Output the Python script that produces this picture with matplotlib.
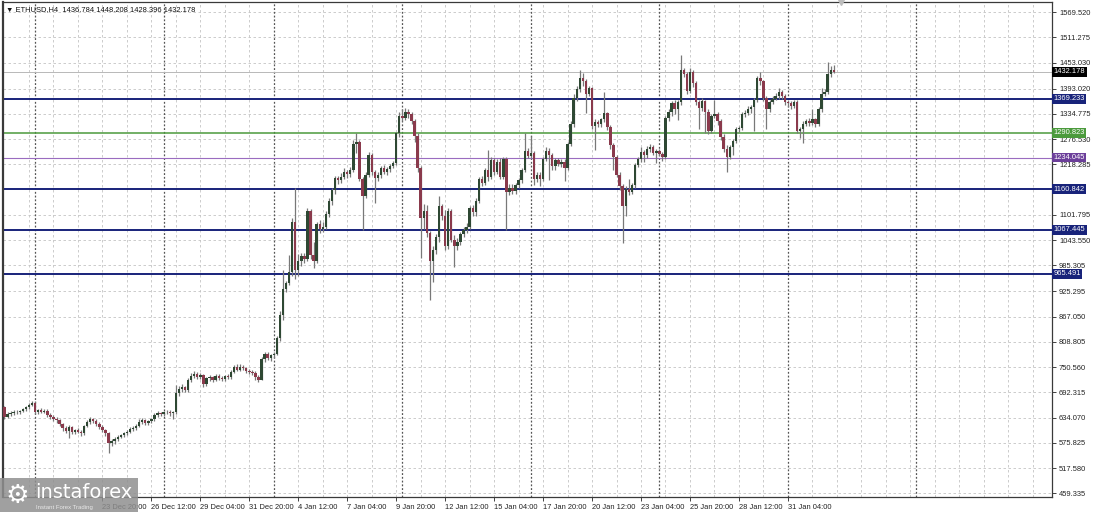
import numpy as np
import matplotlib
matplotlib.use("Agg")
import matplotlib.pyplot as plt
from matplotlib.patches import Rectangle
import matplotlib.transforms as mtransforms

# ---- data (ETHUSD H4) ----
FIRST_OPEN = 658

closes = [
    636, 642, 645, 648, 646, 650, 653, 658, 664, 668,
    646, 652, 648, 650, 640, 636, 632, 628, 620, 610,
    604, 612, 600, 606, 602, 598, 615, 625, 630, 626,
    620, 612, 605, 598, 575, 580, 585, 590, 594, 598,
    602, 608, 610, 615, 625, 628, 622, 626, 630, 640,
    645, 642, 646, 648, 644, 646, 690, 700, 705, 698,
    722, 730, 735, 728, 732, 712, 725, 728, 722, 730,
    726, 724, 730, 728, 740, 750, 745, 752, 748, 742,
    740, 738, 728, 722, 770, 780, 772, 778, 782, 818,
    872, 932, 945, 970, 1085, 975, 995, 1008, 1000, 1110,
    1010, 995, 1080, 1070, 1075, 1105, 1135, 1160, 1186, 1183,
    1190, 1200, 1196, 1205, 1265, 1270, 1185, 1145, 1195, 1240,
    1200, 1188, 1195, 1210, 1200, 1208, 1215, 1222, 1290, 1330,
    1325, 1340, 1335, 1318, 1285, 1210, 1095, 1110, 1060, 995,
    1020, 1050, 1122, 1100, 1030, 1110, 1045, 1030, 1040, 1058,
    1068, 1075, 1118, 1108, 1135, 1185, 1175, 1205, 1190, 1228,
    1200, 1225, 1190, 1230, 1155, 1165, 1158, 1170, 1182, 1205,
    1250, 1238, 1245, 1185, 1195, 1185, 1230, 1250, 1240, 1215,
    1228, 1220, 1225, 1210, 1265, 1312, 1372, 1392, 1418, 1410,
    1380, 1395, 1308, 1315, 1312, 1322, 1337, 1305, 1262, 1235,
    1195, 1168, 1122, 1162, 1155, 1170, 1218, 1230, 1248, 1240,
    1255, 1258, 1245, 1250, 1242, 1235, 1325, 1340, 1360, 1345,
    1362, 1436, 1428, 1388, 1432, 1405, 1362, 1348, 1365, 1340,
    1295, 1330, 1335, 1318, 1282, 1255, 1236, 1258, 1272, 1300,
    1302, 1335, 1338, 1345, 1350, 1367, 1418, 1410, 1372, 1345,
    1362, 1370, 1376, 1386, 1375, 1362, 1360, 1352, 1362, 1295,
    1300, 1312, 1318, 1314, 1322, 1312, 1345, 1380, 1386, 1428,
    1436.784, 1432.178,
]

highs = [
    660, 646, 649, 652, 651, 652, 656, 660, 668, 672,
    672, 655, 656, 654, 653, 644, 640, 636, 630, 622,
    614, 616, 615, 609, 610, 606, 618, 628, 635, 633,
    630, 624, 616, 609, 600, 584, 590, 594, 597, 602,
    606, 612, 614, 620, 630, 633, 631, 629, 634, 644,
    649, 648, 649, 651, 651, 650, 709, 708, 712, 708,
    726, 736, 742, 739, 736, 735, 728, 733, 731, 734,
    734, 731, 733, 734, 744, 755, 757, 757, 756, 751,
    746, 744, 741, 733, 773, 786, 785, 782, 786, 822,
    880, 975, 950, 1009, 1095, 1164, 1012, 1015, 1014, 1118,
    1115, 1040, 1085, 1090, 1085, 1110, 1140, 1165, 1192, 1192,
    1198, 1210, 1206, 1212, 1275, 1291, 1275, 1190, 1200, 1248,
    1245, 1206, 1200, 1215, 1218, 1212, 1220, 1226, 1294, 1340,
    1345, 1348, 1346, 1340, 1322, 1290, 1215, 1128, 1125, 1065,
    1030, 1058, 1145, 1128, 1113, 1118, 1115, 1055, 1048, 1062,
    1074, 1082, 1122, 1125, 1140, 1190, 1192, 1210, 1252, 1236,
    1234, 1230, 1232, 1236, 1236, 1172, 1172, 1175, 1186, 1210,
    1291, 1256, 1285, 1250, 1200, 1200, 1235, 1258, 1256, 1245,
    1232, 1234, 1230, 1230, 1270, 1318, 1380, 1400, 1436, 1430,
    1415, 1400, 1398, 1322, 1320, 1326, 1385, 1340, 1310, 1268,
    1240, 1200, 1172, 1168, 1185, 1175, 1222, 1236, 1258, 1252,
    1260, 1265, 1262, 1255, 1254, 1246, 1330, 1345, 1365, 1366,
    1368, 1471, 1440, 1432, 1440, 1435, 1410, 1368, 1372, 1368,
    1345, 1335, 1368, 1340, 1322, 1288, 1262, 1262, 1278, 1305,
    1308, 1340, 1343, 1352, 1356, 1372, 1422, 1431, 1414, 1376,
    1366, 1375, 1382, 1395, 1390, 1380, 1368, 1365, 1368, 1366,
    1305, 1318, 1322, 1325, 1345, 1326, 1350, 1395, 1392, 1455,
    1445, 1448.208,
]

lows = [
    632, 634, 638, 641, 642, 643, 646, 650, 655, 660,
    642, 643, 645, 644, 636, 630, 627, 622, 614, 604,
    598, 587, 596, 596, 598, 592, 595, 612, 620, 622,
    615, 608, 600, 592, 552, 568, 574, 580, 586, 590,
    594, 598, 604, 606, 612, 619, 618, 617, 621, 627,
    636, 638, 639, 642, 638, 632, 642, 684, 694, 694,
    694, 717, 726, 724, 724, 705, 707, 719, 716, 718,
    722, 718, 718, 724, 724, 736, 741, 741, 744, 737,
    735, 733, 722, 716, 720, 762, 766, 765, 772, 778,
    812, 860, 925, 940, 962, 955, 960, 985, 990, 995,
    1000, 980, 990, 1060, 1062, 1070, 1098, 1125, 1150, 1172,
    1176, 1184, 1188, 1190, 1200, 1245, 1180, 1067, 1140, 1190,
    1195, 1130, 1180, 1188, 1196, 1194, 1200, 1210, 1218, 1282,
    1318, 1320, 1325, 1312, 1270, 1200, 1002, 1070, 1050, 905,
    947, 1012, 1040, 1090, 1020, 1022, 1040, 982, 1020, 1032,
    1050, 1060, 1070, 1100, 1100, 1130, 1168, 1170, 1180, 1185,
    1195, 1196, 1185, 1185, 1067, 1148, 1150, 1150, 1165, 1176,
    1200, 1232, 1232, 1170, 1178, 1168, 1180, 1226, 1182, 1205,
    1205, 1215, 1212, 1180, 1205, 1260, 1305, 1365, 1385, 1400,
    1338, 1375, 1300, 1252, 1305, 1305, 1315, 1298, 1255, 1205,
    1190, 1160, 1037, 1100, 1148, 1150, 1165, 1212, 1225, 1225,
    1232, 1248, 1240, 1222, 1238, 1226, 1230, 1318, 1330, 1335,
    1320, 1355, 1420, 1380, 1383, 1398, 1355, 1300, 1342, 1290,
    1288, 1290, 1325, 1310, 1275, 1248, 1201, 1230, 1240, 1268,
    1292, 1298, 1328, 1332, 1338, 1295, 1362, 1402, 1365, 1300,
    1340, 1358, 1366, 1370, 1370, 1356, 1350, 1345, 1348, 1290,
    1280, 1268, 1308, 1308, 1310, 1305, 1308, 1340, 1375, 1380,
    1420, 1428.396,
]

# horizontal levels drawn on the chart
navy_levels = [1369.233, 1160.842, 1067.445, 965.491]
green_level = 1290.823
purple_level = 1234.045
last_price = 1432.178

# price scale labels
price_ticks = [459.335, 517.580, 575.825, 634.070, 692.315, 750.560, 808.805,
               867.050, 925.295, 985.305, 1043.550, 1101.795, 1218.285,
               1276.530, 1334.775, 1393.020, 1453.030, 1511.275, 1569.520]

# time labels (every 16 bars); the first ones sit under the logo
time_tick_bars = [32, 48, 64, 80, 96, 112, 128, 144, 160, 176, 192,
                  208, 224, 240, 256]
time_tick_labels = ["23 Dec 20:00",
                    "26 Dec 12:00", "29 Dec 04:00", "31 Dec 20:00",
                    "4 Jan 12:00", "7 Jan 04:00", "9 Jan 20:00",
                    "12 Jan 12:00", "15 Jan 04:00", "17 Jan 20:00",
                    "20 Jan 12:00", "23 Jan 04:00", "25 Jan 20:00",
                    "28 Jan 12:00", "31 Jan 04:00"]
week_separators = [10, 52, 88, 130, 172, 214, 256, 298]

# ---- style ----
BULL = "#2e4833"
BEAR = "#8a3a4c"
WICK = "#787878"
GRID = "#c4c4c4"
NAVY = "#18237a"
GREEN = "#4b9a3c"
PURPLE = "#9a6cc0"
FRAME = "#3a3a3a"
FONT = "Liberation Sans"
FS = 5.4

plt.rcParams["font.family"] = [FONT, "DejaVu Sans"]

W, H = 1093, 512
fig = plt.figure(figsize=(W / 100, H / 100), dpi=100)
fig.patch.set_facecolor("white")
ax = fig.add_axes([3 / W, (H - 497) / H, (1052 - 3) / W, (497 - 2) / H])
ax.set_facecolor("white")

c = np.array(closes, dtype=float)
o = np.concatenate([[FIRST_OPEN], c[:-1]])
hi = np.array(highs, dtype=float)
lo = np.array(lows, dtype=float)
x = np.arange(len(c))

ax.set_xlim(-0.49, 342.3)
ax.set_ylim(451.0, 1593.0)

# grid
for p in price_ticks:
    ax.axhline(p, color=GRID, lw=0.6, ls=(0, (3, 3)), zorder=0)
for b in range(8, 343, 8):
    if b not in week_separators:
        ax.axvline(b, color=GRID, lw=0.6, ls=(0, (3, 3)), zorder=0)
for b in week_separators:
    ax.axvline(b, color="#555555", lw=0.9, ls=(0, (1.5, 1.5)), zorder=0.5)

# levels
ax.axhline(last_price, color="#b8b8b8", lw=0.7, zorder=1)
for lv in navy_levels:
    ax.axhline(lv, color=NAVY, lw=1.4, zorder=1)
ax.axhline(green_level, color=GREEN, lw=1.1, zorder=1)
ax.axhline(purple_level, color=PURPLE, lw=0.8, zorder=1)

# candles
up = c >= o
ax.vlines(x, lo, hi, color=WICK, lw=0.9, zorder=2)
body_h = np.maximum(np.abs(c - o), 2.0)
ax.bar(x[up], body_h[up], bottom=np.minimum(o, c)[up], width=0.78,
       color=BULL, edgecolor="none", zorder=3)
ax.bar(x[~up], body_h[~up], bottom=np.minimum(o, c)[~up], width=0.78,
       color=BEAR, edgecolor="none", zorder=3)

# axes look
for s in ["left", "right", "bottom", "top"]:
    ax.spines[s].set_color(FRAME)
    ax.spines[s].set_linewidth(0.9)
ax.spines["left"].set_linewidth(1.6)
ax.yaxis.tick_right()
ax.set_yticks(price_ticks)
ax.set_yticklabels([f"{p:.3f}" for p in price_ticks])
ax.tick_params(axis="y", length=3, width=0.6, pad=2, labelsize=FS,
               colors="#222222")
ax.set_xticks(time_tick_bars)
ax.set_xticklabels(time_tick_labels, ha="left")
ax.tick_params(axis="x", length=3, width=0.6, pad=2, labelsize=FS,
               colors="#222222")

# price tag boxes on the scale
ytr = mtransforms.blended_transform_factory(ax.transAxes, ax.transData)
tags = [(last_price, "black"), (green_level, GREEN), (purple_level, "#6c3f9a")]
tags += [(lv, NAVY) for lv in navy_levels]
for val, col in tags:
    ax.text(1.0015, val, f"{val:.3f}", transform=ytr, fontsize=FS,
            color="white", va="center", ha="left", zorder=10, clip_on=False,
            bbox=dict(boxstyle="square,pad=0.18", facecolor=col,
                      edgecolor="none"))

# title
ax.text(0.003, 0.992, "\u25bc ETHUSD,H4  1436.784 1448.208 1428.396 1432.178",
        transform=ax.transAxes, fontsize=FS, va="top", ha="left",
        color="#111111", zorder=10)

# chart shift marker
ax.plot([273.5], [1.0], marker="v", color="#bdbdbd", markersize=4,
        transform=mtransforms.blended_transform_factory(ax.transData, ax.transAxes),
        clip_on=False, zorder=10)

# watermark
fig.patches.append(Rectangle((0, 0), 138 / W, 34 / H, transform=fig.transFigure,
                             facecolor="#8f8f8f", alpha=0.85, edgecolor="none",
                             zorder=20))
fig.text(5 / W, 16 / H, "\u2699", fontsize=19, color="white", va="center",
         ha="left", family="DejaVu Sans", zorder=21)
fig.text(35 / W, 19 / H, "instaforex", fontsize=14, color="white",
         va="center", ha="left", family="DejaVu Sans", zorder=21)
fig.text(36 / W, 5 / H, "Instant Forex Trading", fontsize=4.3, color="#e8e8e8",
         va="center", ha="left", zorder=21)

fig.savefig("out.png", dpi=100, facecolor="white")
